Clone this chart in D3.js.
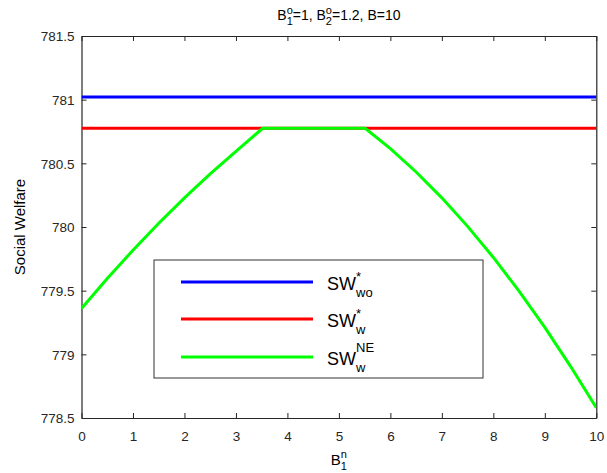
<!DOCTYPE html>
<html><head><meta charset="utf-8">
<script src="https://cdn.jsdelivr.net/npm/d3@7"></script>
<style>body{margin:0;background:#fff;} text{font-family:"Liberation Sans",Arial,sans-serif;}</style>
</head><body>
<svg id="c" width="607" height="473"></svg>
<script>
// ---- data ----
const xTicks = [0,1,2,3,4,5,6,7,8,9,10];
const yTicks = [778.5,779,779.5,780,780.5,781,781.5];
const yTickLabels = ["778.5","779","779.5","780","780.5","781","781.5"];
const swWo = [[0,781.02],[10,781.02]];
const swW = [[0,780.775],[10,780.775]];
const swNEx = [0,0.5,1,1.5,2,2.5,3,3.52,4,4.5,5,5.51,6,6.5,7,7.5,8,8.5,9,9.5,10];
const swNEy = [779.36,779.595,779.818,780.029,780.229,780.417,780.594,780.775,780.775,780.775,780.775,780.775,780.615,780.432,780.229,780.005,779.761,779.496,779.211,778.906,778.581];
const seriesNames = ["wo","w","w"];

const L=81.5, R=596.3, T=36, B=418;
const svg = d3.select("#c");
const x = d3.scaleLinear().domain([0,10]).range([L,R]);
const y = d3.scaleLinear().domain([778.5,781.5]).range([B,T]);
const ax = "#262626";

// axes
const gB = svg.append("g").attr("transform",`translate(0,${B})`)
  .call(d3.axisBottom(x).tickValues(xTicks).tickSize(-5).tickSizeOuter(0).tickPadding(13).tickFormat(d3.format("d")));
const gT = svg.append("g").attr("transform",`translate(0,${T})`)
  .call(d3.axisTop(x).tickValues(xTicks).tickSize(-5).tickSizeOuter(0).tickFormat(""));
const gL = svg.append("g").attr("transform",`translate(${L},0)`)
  .call(d3.axisLeft(y).tickValues(yTicks).tickSize(-5).tickSizeOuter(0).tickPadding(7).tickFormat((d,i)=>yTickLabels[i]));
const gR = svg.append("g").attr("transform",`translate(${R},0)`)
  .call(d3.axisRight(y).tickValues(yTicks).tickSize(-5).tickSizeOuter(0).tickFormat(""));
[gB,gT,gL,gR].forEach(g=>{
  g.select(".domain").attr("stroke",ax).attr("stroke-width",1.2);
  g.selectAll(".tick line").attr("stroke",ax).attr("stroke-width",1);
  g.selectAll(".tick text").attr("fill",ax).style("font-size","13.5px").style("font-family",'"Liberation Sans",Arial,sans-serif');
});
gL.selectAll(".tick text").attr("dy","0.35em");

// lines
const line = d3.line().x(d=>x(d[0])).y(d=>y(d[1]));
const clip = svg.append("clipPath").attr("id","cl").append("rect").attr("x",L).attr("y",T).attr("width",R-L).attr("height",B-T);
const plot = svg.append("g").attr("clip-path","url(#cl)");
plot.append("path").datum(swWo).attr("d",line).attr("fill","none").attr("stroke","#0000ff").attr("stroke-width",3);
plot.append("path").datum(swW).attr("d",line).attr("fill","none").attr("stroke","#ff0000").attr("stroke-width",3);
plot.append("path").datum(swNEx.map((v,i)=>[v,swNEy[i]])).attr("d",line).attr("fill","none").attr("stroke","#00ff00").attr("stroke-width",3);

// rich text helper: parts = [{t,s}|{stack:[{t,s,dy}]}]
function rich(g, cx, baseY, parts, fill){
  const grp = g.append("g");
  let xx = 0;
  parts.forEach(p=>{
    if(p.stack){
      let w=0;
      p.stack.forEach(q=>{
        const t=grp.append("text").attr("x",xx).attr("y",baseY+(q.dy||0)).style("font-size",q.s+"px").attr("fill",fill).text(q.t);
        w=Math.max(w,t.node().getComputedTextLength());
      });
      xx+=w;
    } else {
      const t=grp.append("text").attr("x",xx).attr("y",baseY+(p.dy||0)).style("font-size",p.s+"px").attr("fill",fill).text(p.t);
      xx+=t.node().getComputedTextLength();
    }
  });
  return {grp, w:xx, place(x0){grp.attr("transform",`translate(${x0},0)`);} };
}

// title
const title = rich(svg, 0, 20, [
  {t:"B",s:14},{stack:[{t:"o",s:11,dy:-6},{t:"1",s:11,dy:5}]},{t:"=1, B",s:14},
  {stack:[{t:"o",s:11,dy:-6},{t:"2",s:11,dy:5}]},{t:"=1.2, B=10",s:14}
], "#000");
title.place((L+R)/2 - title.w/2);

// x label
const xl = rich(svg, 0, 465, [{t:"B",s:15},{stack:[{t:"n",s:11,dy:-7},{t:"1",s:11,dy:5}]}], "#000");
xl.place((L+R)/2 - xl.w/2);

// y label
svg.append("text").attr("transform",`translate(25,${(T+B)/2}) rotate(-90)`).attr("text-anchor","middle")
  .style("font-size","15px").attr("fill","#000").text("Social Welfare");

// legend
const lg = svg.append("g");
lg.append("rect").attr("x",154).attr("y",260).attr("width",329).attr("height",118).attr("fill","#fff").attr("stroke","#333").attr("stroke-width",1);
const legY = [282,319,357];
const legC = ["#0000ff","#ff0000","#00ff00"];
const sups = ["*","*","NE"];
legY.forEach((ly,i)=>{
  lg.append("line").attr("x1",181).attr("x2",313).attr("y1",ly).attr("y2",ly).attr("stroke",legC[i]).attr("stroke-width",3);
  const r = rich(lg, 0, ly+8, [{t:"SW",s:18},{stack:[{t:sups[i],s:13,dy:sups[i]==="*"?-9:-13},{t:seriesNames[i],s:13,dy:7}]}], "#000");
  r.place(327);
});
</script>
</body></html>
